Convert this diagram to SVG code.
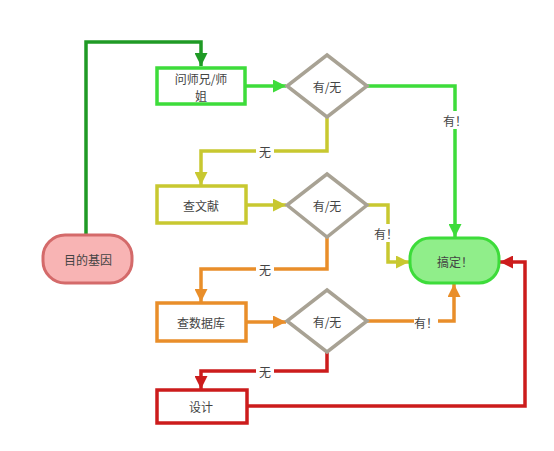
<svg xmlns="http://www.w3.org/2000/svg" width="554" height="451" viewBox="0 0 554 451">
<style>
text{font-family:"Noto Sans CJK SC","Liberation Sans",sans-serif;font-size:12px;fill:#444;text-anchor:middle;dominant-baseline:central}
.ln{fill:none;stroke-width:3.5;stroke-linejoin:miter}
.box{fill:#fff;stroke-width:3.5}
.dia{fill:#fff;stroke:#a8a294;stroke-width:3.5}
.lb{fill:#fff}
</style>
<defs>
<marker id="aDG" viewBox="0 0 10 10" refX="10" refY="5" markerWidth="13" markerHeight="13" markerUnits="userSpaceOnUse" orient="auto"><path d="M0,0L10,5L0,10z" fill="#1f9a25"/></marker>
<marker id="aG" viewBox="0 0 10 10" refX="10" refY="5" markerWidth="13" markerHeight="13" markerUnits="userSpaceOnUse" orient="auto"><path d="M0,0L10,5L0,10z" fill="#3ddc3a"/></marker>
<marker id="aY" viewBox="0 0 10 10" refX="10" refY="5" markerWidth="13" markerHeight="13" markerUnits="userSpaceOnUse" orient="auto"><path d="M0,0L10,5L0,10z" fill="#c8c830"/></marker>
<marker id="aO" viewBox="0 0 10 10" refX="10" refY="5" markerWidth="13" markerHeight="13" markerUnits="userSpaceOnUse" orient="auto"><path d="M0,0L10,5L0,10z" fill="#e98e2a"/></marker>
<marker id="aR" viewBox="0 0 10 10" refX="10" refY="5" markerWidth="13" markerHeight="13" markerUnits="userSpaceOnUse" orient="auto"><path d="M0,0L10,5L0,10z" fill="#cc1c1c"/></marker>
</defs>
<rect width="554" height="451" fill="#fff"/>
<g id="connectors">
<path class="ln" stroke="#1f9a25" d="M86,235V42H201V66" marker-end="url(#aDG)"/>
<path class="ln" stroke="#3ddc3a" d="M245,86H286" marker-end="url(#aG)"/>
<path class="ln" stroke="#3ddc3a" d="M367,86H455V237" marker-end="url(#aG)"/>
<path class="ln" stroke="#c8c830" d="M327,117V151H201V185" marker-end="url(#aY)"/>
<path class="ln" stroke="#c8c830" d="M246,205H286" marker-end="url(#aY)"/>
<path class="ln" stroke="#c8c830" d="M367,205H388V262H409" marker-end="url(#aY)"/>
<path class="ln" stroke="#e98e2a" d="M327,237V269H201V302" marker-end="url(#aO)"/>
<path class="ln" stroke="#e98e2a" d="M246,322H286" marker-end="url(#aO)"/>
<path class="ln" stroke="#e98e2a" d="M367,321H454V284" marker-end="url(#aO)"/>
<path class="ln" stroke="#cc1c1c" d="M327,352V371H201V389" marker-end="url(#aR)"/>
<path class="ln" stroke="#cc1c1c" d="M247,406H525V262H500" marker-end="url(#aR)"/>
<rect class="lb" x="256" y="143" width="18" height="16"/><text x="265" y="151">无</text>
<rect class="lb" x="444" y="111" width="22" height="18"/><text x="455" y="120">有！</text>
<rect class="lb" x="256" y="261" width="18" height="16"/><text x="265" y="269">无</text>
<rect class="lb" x="374" y="224" width="24" height="18"/><text x="386" y="233">有！</text>
<rect class="lb" x="414" y="313" width="24" height="18"/><text x="426" y="322">有！</text>
<rect class="lb" x="256" y="363" width="18" height="16"/><text x="265" y="371">无</text>
</g>
<g id="n-target"><rect x="43" y="235" width="89" height="48" rx="22" fill="#f8b4b4" stroke="#d46a6a" stroke-width="3"/><text x="88" y="259">目的基因</text></g>
<g id="n-ask"><rect class="box" x="157" y="68" width="88" height="36" stroke="#3ddc3a"/><text x="201" y="78">问师兄/师</text><text x="201" y="95">姐</text></g>
<g id="d1"><path class="dia" d="M327,55L367,86L327,117L287,86Z"/><text x="327" y="86">有/无</text></g>
<g id="n-lit"><rect class="box" x="157" y="186" width="89" height="37" stroke="#c8c830"/><text x="201" y="205">查文献</text></g>
<g id="d2"><path class="dia" d="M327,174L367,205L327,237L287,205Z"/><text x="327" y="205">有/无</text></g>
<g id="n-db"><rect class="box" x="157" y="303" width="89" height="38" stroke="#e98e2a"/><text x="201" y="322">查数据库</text></g>
<g id="d3"><path class="dia" d="M327,290L367,321L327,352L287,321Z"/><text x="327" y="321">有/无</text></g>
<g id="n-design"><rect class="box" x="157" y="390" width="90" height="33" stroke="#cc1c1c"/><text x="201" y="406">设计</text></g>
<g id="n-done"><rect x="410" y="238" width="89" height="45" rx="20" fill="#90ee8a" stroke="#3ddc3a" stroke-width="3"/><text x="455" y="261">搞定！</text></g>
</svg>
